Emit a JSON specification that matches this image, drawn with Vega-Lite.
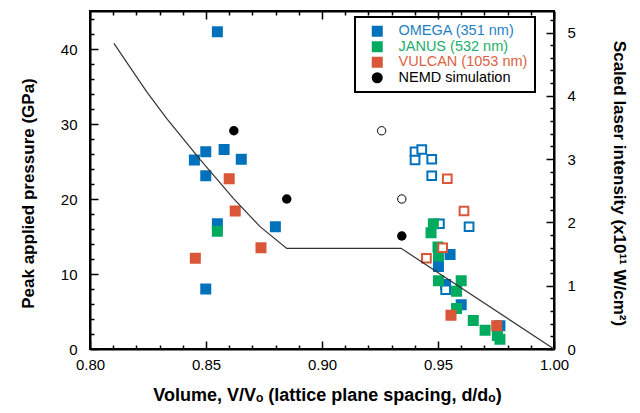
{
  "$schema": "https://vega.github.io/schema/vega-lite/v6.json",
  "width": 464,
  "height": 338,
  "autosize": {"type": "none"},
  "padding": {"left": 90, "top": 11, "right": 86, "bottom": 64},
  "background": "white",
  "datasets": {
    "pts": [
      {"s": "OMEGA (351 nm)", "kind": "V", "v": 0.8549, "p": 42.3},
      {"s": "OMEGA (351 nm)", "kind": "V", "v": 0.8499, "p": 26.3},
      {"s": "OMEGA (351 nm)", "kind": "V", "v": 0.8578, "p": 26.6},
      {"s": "OMEGA (351 nm)", "kind": "V", "v": 0.8450, "p": 25.2},
      {"s": "OMEGA (351 nm)", "kind": "V", "v": 0.8652, "p": 25.3},
      {"s": "OMEGA (351 nm)", "kind": "V", "v": 0.8499, "p": 23.1},
      {"s": "OMEGA (351 nm)", "kind": "V", "v": 0.8549, "p": 16.7},
      {"s": "OMEGA (351 nm)", "kind": "V", "v": 0.8799, "p": 16.3},
      {"s": "OMEGA (351 nm)", "kind": "V", "v": 0.8499, "p": 8.0},
      {"s": "OMEGA (351 nm)", "kind": "V", "v": 0.9552, "p": 12.6},
      {"s": "OMEGA (351 nm)", "kind": "V", "v": 0.9502, "p": 11.0},
      {"s": "OMEGA (351 nm)", "kind": "V", "v": 0.9533, "p": 8.6},
      {"s": "OMEGA (351 nm)", "kind": "V", "v": 0.9600, "p": 5.9},
      {"s": "OMEGA (351 nm)", "kind": "V", "v": 0.9767, "p": 3.1},
      {"s": "OMEGA (351 nm)", "kind": "d", "v": 0.9401, "p": 26.3},
      {"s": "OMEGA (351 nm)", "kind": "d", "v": 0.9430, "p": 26.6},
      {"s": "OMEGA (351 nm)", "kind": "d", "v": 0.9401, "p": 25.2},
      {"s": "OMEGA (351 nm)", "kind": "d", "v": 0.9473, "p": 25.3},
      {"s": "OMEGA (351 nm)", "kind": "d", "v": 0.9473, "p": 23.1},
      {"s": "OMEGA (351 nm)", "kind": "d", "v": 0.9506, "p": 16.7},
      {"s": "OMEGA (351 nm)", "kind": "d", "v": 0.9634, "p": 16.3},
      {"s": "OMEGA (351 nm)", "kind": "d", "v": 0.9533, "p": 7.9},
      {"s": "JANUS (532 nm)", "kind": "V", "v": 0.8549, "p": 15.7},
      {"s": "JANUS (532 nm)", "kind": "V", "v": 0.9480, "p": 16.7},
      {"s": "JANUS (532 nm)", "kind": "V", "v": 0.9470, "p": 15.5},
      {"s": "JANUS (532 nm)", "kind": "V", "v": 0.9500, "p": 13.6},
      {"s": "JANUS (532 nm)", "kind": "V", "v": 0.9502, "p": 12.4},
      {"s": "JANUS (532 nm)", "kind": "V", "v": 0.9502, "p": 9.1},
      {"s": "JANUS (532 nm)", "kind": "V", "v": 0.9600, "p": 9.1},
      {"s": "JANUS (532 nm)", "kind": "V", "v": 0.9580, "p": 7.7},
      {"s": "JANUS (532 nm)", "kind": "V", "v": 0.9580, "p": 5.4},
      {"s": "JANUS (532 nm)", "kind": "V", "v": 0.9652, "p": 3.8},
      {"s": "JANUS (532 nm)", "kind": "V", "v": 0.9703, "p": 2.5},
      {"s": "JANUS (532 nm)", "kind": "V", "v": 0.9756, "p": 1.8},
      {"s": "JANUS (532 nm)", "kind": "V", "v": 0.9767, "p": 1.3},
      {"s": "VULCAN (1053 nm)", "kind": "V", "v": 0.8600, "p": 22.7},
      {"s": "VULCAN (1053 nm)", "kind": "V", "v": 0.8626, "p": 18.4},
      {"s": "VULCAN (1053 nm)", "kind": "V", "v": 0.8737, "p": 13.5},
      {"s": "VULCAN (1053 nm)", "kind": "V", "v": 0.8454, "p": 12.1},
      {"s": "VULCAN (1053 nm)", "kind": "V", "v": 0.9556, "p": 4.5},
      {"s": "VULCAN (1053 nm)", "kind": "V", "v": 0.9753, "p": 3.1},
      {"s": "VULCAN (1053 nm)", "kind": "d", "v": 0.9540, "p": 22.7},
      {"s": "VULCAN (1053 nm)", "kind": "d", "v": 0.9612, "p": 18.4},
      {"s": "VULCAN (1053 nm)", "kind": "d", "v": 0.9520, "p": 13.5},
      {"s": "VULCAN (1053 nm)", "kind": "d", "v": 0.9450, "p": 12.1},
      {"s": "NEMD simulation", "kind": "V", "v": 0.8620, "p": 29.1},
      {"s": "NEMD simulation", "kind": "V", "v": 0.8848, "p": 20.0},
      {"s": "NEMD simulation", "kind": "V", "v": 0.9344, "p": 15.07},
      {"s": "NEMD simulation", "kind": "d", "v": 0.9257, "p": 29.1},
      {"s": "NEMD simulation", "kind": "d", "v": 0.9344, "p": 20.0}
    ],
    "curve": [
      {"v": 0.8103, "p": 40.76},
      {"v": 0.8244, "p": 34.31},
      {"v": 0.8330, "p": 30.76},
      {"v": 0.8474, "p": 25.29},
      {"v": 0.8618, "p": 20.09},
      {"v": 0.8733, "p": 16.31},
      {"v": 0.8848, "p": 13.42},
      {"v": 0.9341, "p": 13.42},
      {"v": 1.0, "p": 0.0}
    ],
    "intensity": [{"I": 0}, {"I": 5}]
  },
  "layer": [
    {
      "data": {"name": "pts"},
      "mark": {"type": "point", "filled": true, "opacity": 1},
      "encoding": {
        "x": {
          "field": "v", "type": "quantitative",
          "scale": {"domain": [0.8, 1.0], "nice": false, "zero": false},
          "axis": {
            "orient": "bottom",
            "values": [0.8,0.81,0.82,0.83,0.84,0.85,0.86,0.87,0.88,0.89,0.9,0.91,0.92,0.93,0.94,0.95,0.96,0.97,0.98,0.99,1],
            "tickSize": {"condition": {"test": "abs(datum.value*20-round(datum.value*20))<1e-6", "value": -8}, "value": -4},
            "labelExpr": "abs(datum.value*20-round(datum.value*20))<1e-6 ? format(datum.value,'.2f') : ''",
            "labelPadding": 16,
            "title": "Volume, V/Vₒ (lattice plane spacing, d/dₒ)",
            "titleFontSize": 18,
            "titleX": 237, "titleY": 51, "titleAlign": "center", "titleBaseline": "alphabetic", "titleAnchor": null
          }
        },
        "y": {
          "field": "p", "type": "quantitative",
          "scale": {"domain": [0, 45.07], "nice": false},
          "axis": {
            "orient": "left",
            "values": [0,2,4,6,8,10,12,14,16,18,20,22,24,26,28,30,32,34,36,38,40,42,44],
            "tickSize": {"condition": {"test": "datum.value % 10 === 0", "value": -8}, "value": -4},
            "labelExpr": "datum.value % 10 === 0 ? datum.label : ''",
            "labelPadding": 21,
            "title": "Peak applied pressure (GPa)",
            "titleX": -57, "titleY": 182, "titleAlign": "center", "titleBaseline": "alphabetic", "titleAngle": -90, "titleAnchor": null
          }
        },
        "shape": {
          "field": "s", "type": "nominal",
          "scale": {"domain": ["OMEGA (351 nm)", "JANUS (532 nm)", "VULCAN (1053 nm)", "NEMD simulation"], "range": ["square", "square", "square", "circle"]},
          "legend": {
            "orient": "none", "legendX": 265, "legendY": 6, "title": null,
            "symbolSize": 121, "symbolStrokeWidth": 0, "symbolOffset": 8,
            "labelFont": "Liberation Sans", "labelFontSize": 14.5, "labelOffset": 14,
            "padding": 7, "rowPadding": 0.5,
            "strokeColor": "black",
            "labelColor": {"expr": "datum.value == 'OMEGA (351 nm)' ? '#1f7fc4' : datum.value == 'JANUS (532 nm)' ? '#1aae6a' : datum.value == 'VULCAN (1053 nm)' ? '#dc6245' : 'black'"}
          }
        },
        "fill": {
          "field": "s", "type": "nominal",
          "condition": {"test": "datum.kind == 'd'", "value": "white"},
          "scale": {"domain": ["OMEGA (351 nm)", "JANUS (532 nm)", "VULCAN (1053 nm)", "NEMD simulation"], "range": ["#0072bc", "#00aa5f", "#d95638", "#000000"]},
          "legend": {
            "orient": "none", "legendX": 265, "legendY": 6, "title": null,
            "symbolSize": 121, "symbolStrokeWidth": 0, "symbolOffset": 8,
            "labelFont": "Liberation Sans", "labelFontSize": 14.5, "labelOffset": 14,
            "padding": 7, "rowPadding": 0.5,
            "strokeColor": "black",
            "labelColor": {"expr": "datum.value == 'OMEGA (351 nm)' ? '#1f7fc4' : datum.value == 'JANUS (532 nm)' ? '#1aae6a' : datum.value == 'VULCAN (1053 nm)' ? '#dc6245' : 'black'"}
          }
        },
        "stroke": {
          "field": "s", "type": "nominal",
          "scale": {"domain": ["OMEGA (351 nm)", "JANUS (532 nm)", "VULCAN (1053 nm)", "NEMD simulation"], "range": ["#0072bc", "#00aa5f", "#d95638", "#000000"]},
          "legend": {
            "orient": "none", "legendX": 265, "legendY": 6, "title": null,
            "symbolSize": 121, "symbolStrokeWidth": 0, "symbolOffset": 8,
            "labelFont": "Liberation Sans", "labelFontSize": 14.5, "labelOffset": 14,
            "padding": 7, "rowPadding": 0.5,
            "strokeColor": "black",
            "labelColor": {"expr": "datum.value == 'OMEGA (351 nm)' ? '#1f7fc4' : datum.value == 'JANUS (532 nm)' ? '#1aae6a' : datum.value == 'VULCAN (1053 nm)' ? '#dc6245' : 'black'"}
          }
        },
        "strokeWidth": {
          "condition": [
            {"test": "datum.kind == 'd' && datum.s == 'NEMD simulation'", "value": 1},
            {"test": "datum.kind == 'd'", "value": 2}
          ],
          "value": 0
        },
        "size": {
          "condition": [
            {"test": "datum.kind == 'd' && datum.s == 'NEMD simulation'", "value": 70},
            {"test": "datum.kind == 'd'", "value": 76},
            {"test": "datum.s == 'NEMD simulation'", "value": 90}
          ],
          "value": 121
        }
      }
    },
    {
      "data": {"name": "curve"},
      "mark": {"type": "line", "color": "#333333", "strokeWidth": 1.2},
      "encoding": {
        "x": {"field": "v", "type": "quantitative", "scale": {"domain": [0.8, 1.0], "nice": false, "zero": false}, "axis": null},
        "y": {"field": "p", "type": "quantitative", "scale": {"domain": [0, 45.07], "nice": false}, "axis": null}
      }
    },
    {
      "data": {"name": "curve"},
      "mark": {"type": "point", "opacity": 0},
      "encoding": {
        "x": {
          "field": "v", "type": "quantitative",
          "scale": {"domain": [0.8, 1.0], "nice": false, "zero": false},
          "axis": {
            "orient": "top",
            "values": [0.8,0.81,0.82,0.83,0.84,0.85,0.86,0.87,0.88,0.89,0.9,0.91,0.92,0.93,0.94,0.95,0.96,0.97,0.98,0.99,1],
            "tickSize": {"condition": {"test": "abs(datum.value*20-round(datum.value*20))<1e-6", "value": -8}, "value": -4},
            "labels": false,
            "title": null
          }
        }
      }
    },
    {
      "data": {"name": "intensity"},
      "mark": {"type": "point", "opacity": 0},
      "encoding": {
        "y": {
          "field": "I", "type": "quantitative",
          "scale": {"domain": [0, 5.34], "nice": false},
          "axis": {
            "orient": "right",
            "values": [0,0.2,0.4,0.6,0.8,1,1.2,1.4,1.6,1.8,2,2.2,2.4,2.6,2.8,3,3.2,3.4,3.6,3.8,4,4.2,4.4,4.6,4.8,5,5.2],
            "tickSize": {"condition": {"test": "abs(datum.value-round(datum.value))<1e-6", "value": -8}, "value": -4},
            "labelExpr": "abs(datum.value-round(datum.value))<1e-6 ? format(datum.value,'d') : ''",
            "labelPadding": 21,
            "title": "Scaled laser intensity (x10¹¹ W/cm²)",
            "titleX": 59, "titleY": 172, "titleAlign": "center", "titleBaseline": "alphabetic", "titleAngle": 90, "titleAnchor": null
          }
        }
      }
    }
  ],
  "resolve": {"scale": {"y": "independent"}, "axis": {"x": "independent", "y": "independent"}},
  "config": {
    "font": "Liberation Sans",
    "view": {"stroke": "black", "strokeWidth": 2},
    "legend": {"strokeWidth": 2},
    "axis": {
      "grid": false,
      "domainColor": "black", "domainWidth": 2,
      "tickColor": "black", "tickWidth": 1.5,
      "labelFont": "Liberation Sans", "labelFontSize": 15, "labelColor": "black",
      "labelOverlap": false, "labelFlush": false, "labelBound": false,
      "titleFont": "Liberation Sans", "titleFontSize": 17, "titleFontWeight": "bold", "titleColor": "black"
    }
  }
}
